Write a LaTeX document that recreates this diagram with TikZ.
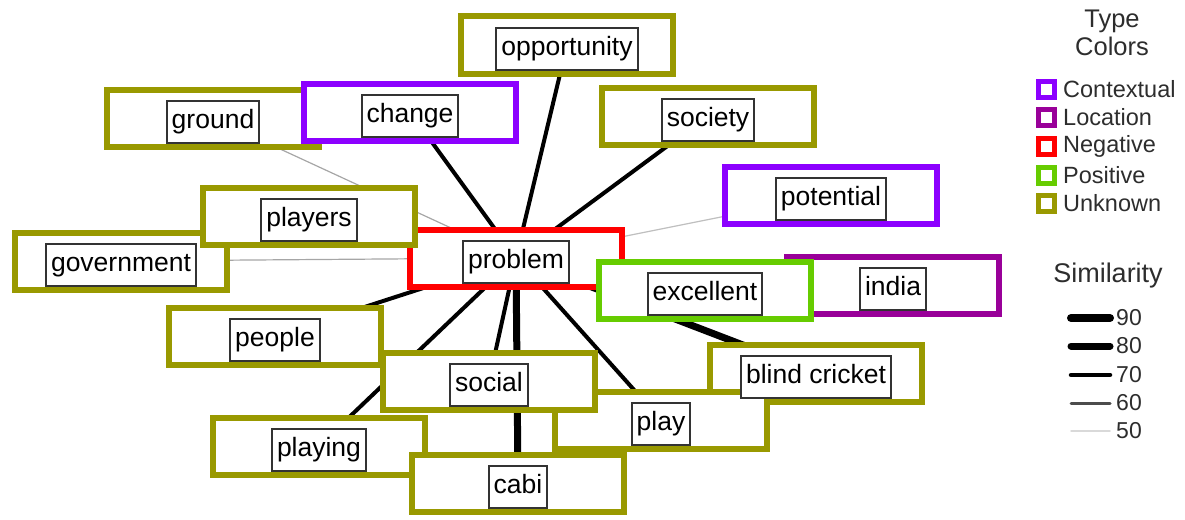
\documentclass[tikz,border=0pt]{standalone}
\usepackage{fontspec}
\setmainfont{Liberation Sans}
\definecolor{unk}{RGB}{153,153,0}
\definecolor{ctx}{RGB}{140,0,255}
\definecolor{loc}{RGB}{153,0,153}
\definecolor{neg}{RGB}{255,0,0}
\definecolor{pos}{RGB}{102,204,0}
\definecolor{txt}{RGB}{45,45,45}
\begin{document}
\begin{tikzpicture}[x=1pt,y=-1pt,
  outerbox/.style={draw=#1,line width=6pt,fill=white,minimum width=212pt,minimum height=57pt,inner sep=0pt},
  lab/.style={draw=black!80,line width=2pt,fill=white,inner xsep=5pt,inner ysep=8pt,text height=19.5pt,text depth=6pt,font=\fontsize{26.5}{30}\selectfont},
  e50/.style={line width=1.2pt,draw=black!25},
  e50b/.style={line width=1.2pt,draw=black!35},
  e70/.style={line width=4pt,draw=black},
  e90/.style={line width=7pt,draw=black},
  legtext/.style={text=txt,anchor=west,inner sep=0pt,font=\fontsize{23.5}{26}\selectfont},
  legsq/.style={draw=#1,line width=5pt,fill=white}
]
\useasboundingbox (0,0) rectangle (1185,519);
% centres of the outer boxes
\coordinate (opp) at (567,45);
\coordinate (gro) at (213,118);
\coordinate (cha) at (410,112);
\coordinate (soc) at (708,116);
\coordinate (pot) at (831,195);
\coordinate (pla) at (309,216);
\coordinate (gov) at (121,261);
\coordinate (pro) at (516,258);
\coordinate (exc) at (705,290);
\coordinate (ind) at (893,285);
\coordinate (peo) at (275,336);
\coordinate (sci) at (489,381);
\coordinate (bli) at (816,373);
\coordinate (ply) at (661,420);
\coordinate (plg) at (319,446);
\coordinate (cab) at (518,483);
% connectors
\draw[e50b] (pro) -- (gro);
\draw[e50b] (pro) -- (gov);
\draw[e50] (pro) -- (pot);
\draw[e70] (pro) -- (opp);
\draw[e70] (pro) -- (cha);
\draw[e70] (pro) -- (soc);
\draw[e70] (pro) -- (peo);
\draw[e70] (pro) -- (plg);
\draw[e70] (pro) -- (sci);
\draw[e70] (pro) -- (ply);
\draw[e90] (pro) -- (cab);
\draw[e90] (pro) -- (bli);
% outer boxes
\node[outerbox=unk] (groB) at (gro) {};
\node[outerbox=ctx] (chaB) at (cha) {};
\node[outerbox=unk] (oppB) at (opp) {};
\node[outerbox=unk] (socB) at (soc) {};
\node[outerbox=ctx] (potB) at (pot) {};
\node[outerbox=unk] (govB) at (gov) {};
\node[outerbox=neg] (proB) at (pro) {};
\node[outerbox=unk] (plaB) at (pla) {};
\node[outerbox=loc] (indB) at (ind) {};
\node[outerbox=pos] (excB) at (exc) {};
\node[outerbox=unk] (peoB) at (peo) {};
\node[outerbox=unk] (bliB) at (bli) {};
\node[outerbox=unk] (plyB) at (ply) {};
\node[outerbox=unk] (sciB) at (sci) {};
\node[outerbox=unk] (plgB) at (plg) {};
\node[outerbox=unk] (cabB) at (cab) {};
% labels
\node[lab] (groL) at ([yshift=-4pt]gro) {ground};
\node[lab] (chaL) at ([yshift=-4pt]cha) {change};
\node[lab] (oppL) at ([yshift=-4pt]opp) {opportunity};
\node[lab] (socL) at ([yshift=-4pt]soc) {society};
\node[lab] (potL) at ([yshift=-4pt]pot) {potential};
\node[lab] (govL) at ([yshift=-4pt]gov) {government};
\node[lab] (proL) at ([yshift=-4pt]pro) {problem};
\node[lab] (plaL) at ([yshift=-4pt]pla) {players};
\node[lab] (indL) at ([yshift=-4pt]ind) {india};
\node[lab] (excL) at ([yshift=-4pt]exc) {excellent};
\node[lab] (peoL) at ([yshift=-4pt]peo) {people};
\node[lab] (bliL) at ([yshift=-4pt]bli) {blind cricket};
\node[lab] (plyL) at ([yshift=-4pt]ply) {play};
\node[lab] (sciL) at ([yshift=-4pt]sci) {social};
\node[lab] (plgL) at ([yshift=-4pt]plg) {playing};
\node[lab] (cabL) at ([yshift=-4pt]cab) {cabi};
% legend: type colours
\node[text=txt,align=center,inner sep=0pt,font=\fontsize{25.5}{28}\selectfont] (legT) at (1112,33) {Type\\Colors};
\foreach \c/\t/\y in {ctx/Contextual/89,loc/Location/117,neg/Negative/146,pos/Positive/175,unk/Unknown/203}{
  \node[legsq=\c,minimum size=16pt,inner sep=0pt] (sq\t) at (1046,\y) {};
  \node[legtext] (lt\t) at (1063,\y) {\t};
}
% legend: similarity
\node[text=txt,inner sep=0pt,font=\fontsize{27}{30}\selectfont] (legS) at (1108,276) {Similarity};
\foreach \v/\y/\w/\col in {90/318/8/black,80/346/7/black,70/375/4.5/black,60/403/3/black!70,50/431/1.5/black!15}{
  \coordinate (sa\v) at (1071,\y);
  \coordinate (sb\v) at (1110,\y);
  \draw[line width=\w pt,draw=\col,line cap=round] (sa\v) -- (sb\v);
  \node[legtext,font=\fontsize{23}{26}\selectfont] (sl\v) at (1116,\y) {\v};
}
\end{tikzpicture}
\end{document}
